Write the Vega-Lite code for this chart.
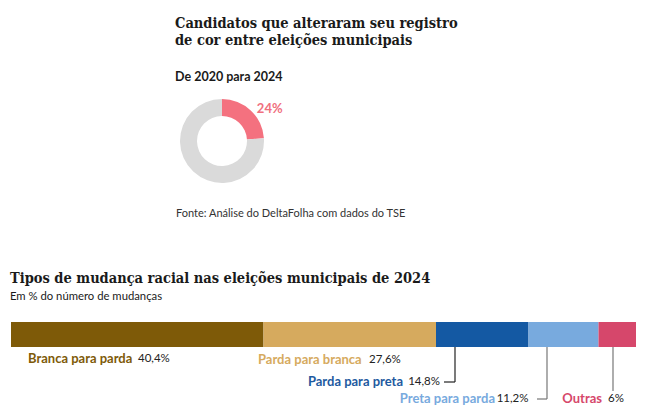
{
  "$schema": "https://vega.github.io/schema/vega-lite/v6.json",
  "padding": {"left": 10, "top": 16, "right": 0, "bottom": 0},
  "background": "white",
  "config": {
    "view": {"stroke": null},
    "font": "Lato",
    "concat": {"spacing": 52}
  },
  "resolve": {"scale": {"color": "independent"}},
  "title": {
    "text": ["Candidatos que alteraram seu registro", "de cor entre eleições municipais"],
    "subtitle": "De 2020 para 2024",
    "anchor": "start",
    "dx": 165,
    "font": "'DejaVu Serif Condensed', 'DejaVu Serif', serif",
    "fontSize": 14.5,
    "fontWeight": "bold",
    "lineHeight": 17,
    "color": "#1a1a1a",
    "subtitleFont": "Lato",
    "subtitleFontSize": 12.5,
    "subtitleFontWeight": "bold",
    "subtitleColor": "#1a1a1a",
    "subtitlePadding": 22,
    "offset": 15
  },
  "vconcat": [
    {
      "width": 422,
      "height": 84,
      "title": {
        "text": "Fonte: Análise do DeltaFolha com dados do TSE",
        "orient": "bottom",
        "anchor": "start",
        "dx": 165,
        "offset": 22,
        "font": "Lato",
        "fontSize": 11,
        "fontWeight": "normal",
        "color": "#333"
      },
      "data": {
        "values": [
          {"grupo": "Alteraram", "pct": 24, "ordem": 1, "rotulo": "24%"},
          {"grupo": "Não alteraram", "pct": 76, "ordem": 2, "rotulo": ""}
        ]
      },
      "encoding": {
        "theta": {"field": "pct", "type": "quantitative", "stack": true},
        "order": {"field": "ordem", "type": "quantitative"}
      },
      "layer": [
        {
          "mark": {"type": "arc", "innerRadius": 25, "outerRadius": 42},
          "encoding": {
            "color": {
              "field": "grupo",
              "type": "nominal",
              "scale": {"domain": ["Alteraram", "Não alteraram"], "range": ["#f4717f", "#dadada"]},
              "legend": null
            }
          }
        },
        {
          "mark": {"type": "text", "radius": 48, "align": "left", "baseline": "middle", "dx": 2, "dy": 3, "font": "Lato", "fontSize": 13, "fontWeight": "bold", "color": "#f0707e"},
          "encoding": {"text": {"field": "rotulo"}}
        }
      ]
    },
    {
      "width": 625,
      "height": 85,
      "title": {
        "text": "Tipos de mudança racial nas eleições municipais de 2024",
        "subtitle": "Em % do número de mudanças",
        "anchor": "start",
        "dx": -1,
        "font": "'DejaVu Serif Condensed', 'DejaVu Serif', serif",
        "fontSize": 14.5,
        "fontWeight": "bold",
        "color": "#1a1a1a",
        "subtitleFont": "Lato",
        "subtitleFontSize": 11.3,
        "subtitleColor": "#1a1a1a",
        "subtitlePadding": 4,
        "offset": 19
      },
      "data": {
        "values": [
          {"tipo": "Branca para parda", "pct": 40.4, "rotulo": "40,4%", "ordem": 1},
          {"tipo": "Parda para branca", "pct": 27.6, "rotulo": "27,6%", "ordem": 2},
          {"tipo": "Parda para preta", "pct": 14.8, "rotulo": "14,8%", "ordem": 3},
          {"tipo": "Preta para parda", "pct": 11.2, "rotulo": "11,2%", "ordem": 4},
          {"tipo": "Outras", "pct": 6, "rotulo": "6%", "ordem": 5}
        ]
      },
      "transform": [
        {"stack": "pct", "groupby": [], "sort": [{"field": "ordem"}], "as": ["x0", "x1"]}
      ],
      "layer": [
        {
          "mark": {"type": "bar"},
          "encoding": {
            "x": {"field": "x0", "type": "quantitative", "scale": {"domain": [0, 100], "nice": false}, "axis": null},
            "x2": {"field": "x1"},
            "y": {"datum": 0, "type": "quantitative", "scale": {"domain": [0, 3.4], "reverse": true, "nice": false, "zero": false}, "axis": null},
            "y2": {"datum": 1},
            "color": {
              "field": "tipo",
              "type": "nominal",
              "scale": {
                "domain": ["Branca para parda", "Parda para branca", "Parda para preta", "Preta para parda", "Outras"],
                "range": ["#7e5a08", "#d6aa5e", "#1459a3", "#78aade", "#d6476b"]
              },
              "legend": null
            }
          }
        },
        {
          "transform": [{"filter": "datum.tipo === 'Parda para preta'"}],
          "mark": {"type": "rule", "color": "#222", "strokeWidth": 1.2},
          "encoding": {"x": {"datum": 71.04, "type": "quantitative"}, "y": {"datum": 1, "type": "quantitative"}, "y2": {"datum": 2.4}}
        },
        {
          "transform": [{"filter": "datum.tipo === 'Parda para preta'"}],
          "mark": {"type": "rule", "color": "#222", "strokeWidth": 1.2},
          "encoding": {"x": {"datum": 69.28, "type": "quantitative"}, "x2": {"datum": 71.04}, "y": {"datum": 2.4, "type": "quantitative"}}
        },
        {
          "transform": [{"filter": "datum.tipo === 'Preta para parda'"}],
          "mark": {"type": "rule", "color": "#777", "strokeWidth": 1.2},
          "encoding": {"x": {"datum": 85.76, "type": "quantitative"}, "y": {"datum": 1, "type": "quantitative"}, "y2": {"datum": 3.08}}
        },
        {
          "transform": [{"filter": "datum.tipo === 'Preta para parda'"}],
          "mark": {"type": "rule", "color": "#777", "strokeWidth": 1.2},
          "encoding": {"x": {"datum": 84.16, "type": "quantitative"}, "x2": {"datum": 85.76}, "y": {"datum": 3.08, "type": "quantitative"}}
        },
        {
          "transform": [{"filter": "datum.tipo === 'Outras'"}],
          "mark": {"type": "rule", "color": "#777", "strokeWidth": 1.2},
          "encoding": {"x": {"datum": 96.32, "type": "quantitative"}, "y": {"datum": 1, "type": "quantitative"}, "y2": {"datum": 2.76}}
        },
        {
          "transform": [{"filter": "datum.tipo === 'Branca para parda'"}],
          "mark": {"type": "text", "align": "left", "baseline": "middle", "dx": 17, "fontSize": 13, "fontWeight": "bold", "color": "#7e5a08"},
          "encoding": {"x": {"field": "x0", "type": "quantitative"}, "y": {"datum": 1.48, "type": "quantitative"}, "text": {"field": "tipo"}}
        },
        {
          "transform": [{"filter": "datum.tipo === 'Branca para parda'"}],
          "mark": {"type": "text", "align": "left", "baseline": "middle", "dx": 127, "fontSize": 11.5, "color": "#222"},
          "encoding": {"x": {"field": "x0", "type": "quantitative"}, "y": {"datum": 1.48, "type": "quantitative"}, "text": {"field": "rotulo"}}
        },
        {
          "transform": [{"filter": "datum.tipo === 'Parda para branca'"}],
          "mark": {"type": "text", "align": "left", "baseline": "middle", "dx": -5.5, "fontSize": 13, "fontWeight": "bold", "color": "#d6aa5e"},
          "encoding": {"x": {"field": "x0", "type": "quantitative"}, "y": {"datum": 1.52, "type": "quantitative"}, "text": {"field": "tipo"}}
        },
        {
          "transform": [{"filter": "datum.tipo === 'Parda para branca'"}],
          "mark": {"type": "text", "align": "left", "baseline": "middle", "dx": 105.5, "fontSize": 11.5, "color": "#222"},
          "encoding": {"x": {"field": "x0", "type": "quantitative"}, "y": {"datum": 1.52, "type": "quantitative"}, "text": {"field": "rotulo"}}
        },
        {
          "transform": [{"filter": "datum.tipo === 'Parda para preta'"}],
          "mark": {"type": "text", "align": "right", "baseline": "middle", "dx": -33, "fontSize": 13, "fontWeight": "bold", "color": "#1e5aa0"},
          "encoding": {"x": {"field": "x0", "type": "quantitative"}, "y": {"datum": 2.4, "type": "quantitative"}, "text": {"field": "tipo"}}
        },
        {
          "transform": [{"filter": "datum.tipo === 'Parda para preta'"}],
          "mark": {"type": "text", "align": "right", "baseline": "middle", "dx": 4, "fontSize": 11.5, "color": "#222"},
          "encoding": {"x": {"field": "x0", "type": "quantitative"}, "y": {"datum": 2.4, "type": "quantitative"}, "text": {"field": "rotulo"}}
        },
        {
          "transform": [{"filter": "datum.tipo === 'Preta para parda'"}],
          "mark": {"type": "text", "align": "right", "baseline": "middle", "dx": -33.5, "fontSize": 13, "fontWeight": "bold", "color": "#78aade"},
          "encoding": {"x": {"field": "x0", "type": "quantitative"}, "y": {"datum": 3.08, "type": "quantitative"}, "text": {"field": "tipo"}}
        },
        {
          "transform": [{"filter": "datum.tipo === 'Preta para parda'"}],
          "mark": {"type": "text", "align": "right", "baseline": "middle", "dx": 0, "fontSize": 11.5, "color": "#222"},
          "encoding": {"x": {"field": "x0", "type": "quantitative"}, "y": {"datum": 3.08, "type": "quantitative"}, "text": {"field": "rotulo"}}
        },
        {
          "transform": [{"filter": "datum.tipo === 'Outras'"}],
          "mark": {"type": "text", "align": "right", "baseline": "middle", "dx": 3.5, "fontSize": 13, "fontWeight": "bold", "color": "#d6476b"},
          "encoding": {"x": {"field": "x0", "type": "quantitative"}, "y": {"datum": 3.08, "type": "quantitative"}, "text": {"field": "tipo"}}
        },
        {
          "transform": [{"filter": "datum.tipo === 'Outras'"}],
          "mark": {"type": "text", "align": "left", "baseline": "middle", "dx": 9.5, "fontSize": 11.5, "color": "#222"},
          "encoding": {"x": {"field": "x0", "type": "quantitative"}, "y": {"datum": 3.08, "type": "quantitative"}, "text": {"field": "rotulo"}}
        }
      ]
    }
  ]
}
